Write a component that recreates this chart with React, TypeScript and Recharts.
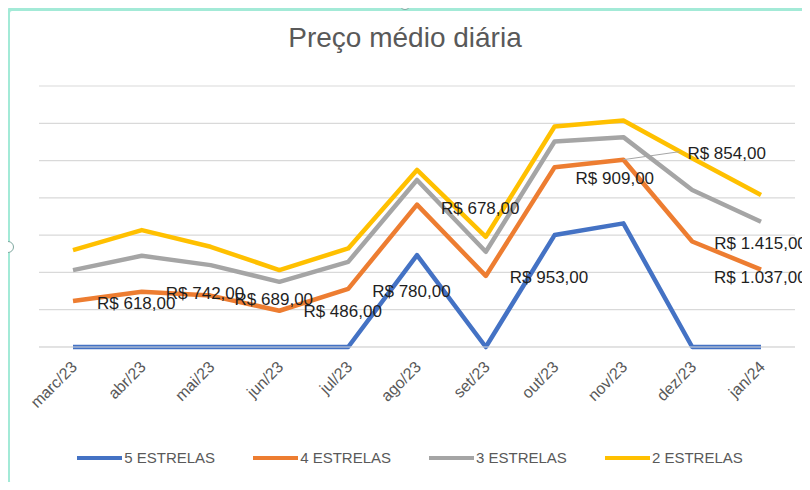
import React from "react"
import { LineChart, Line, XAxis, YAxis, CartesianGrid, Legend, LabelList } from "recharts"

const months = ["marc/23", "abr/23", "mai/23", "jun/23", "jul/23", "ago/23", "set/23", "out/23", "nov/23", "dez/23", "jan/24"]
const star5 = [0, 0, 0, 0, 0, 1232, 0, 1501, 1658, 0, 0]
const star4 = [618, 742, 689, 486, 780, 678, 953, 909, 854, 1415, 1037]
const star3 = [413, 481, 409, 388, 362, 330, 324, 345, 302, 691, 643]
const star2 = [269, 345, 246, 157, 180, 135, 201, 202, 223, 426, 359]
const yTicks = [0, 500, 1000, 1500, 2000, 2500, 3000, 3500]

const series = [
  { key: "c5", name: "5 ESTRELAS", color: "#4472C4" },
  { key: "c4", name: "4 ESTRELAS", color: "#ED7D31" },
  { key: "c3", name: "3 ESTRELAS", color: "#A5A5A5" },
  { key: "c2", name: "2 ESTRELAS", color: "#FFC000" },
]

// label nudges (Excel labels were dragged around a bit)
const labelDx = [24, 24, 24, 24, 24, 24, 24, 21, 64, 22, -47]
const labelDy = [2, 1, 3, 0, 2, 3, 1, 11, -7, 2, 7]

// Excel stacked line: each line sits on top of the previous ones
const data = months.map((m, i) => ({
  name: m,
  c5: star5[i],
  c4: star5[i] + star4[i],
  c3: star5[i] + star4[i] + star3[i],
  c2: star5[i] + star4[i] + star3[i] + star2[i],
}))

function brl(v: number) {
  const [int, dec] = v.toFixed(2).split(".")
  return "R$ " + int.replace(/\B(?=(\d{3})+(?!\d))/g, ".") + "," + dec
}

const MonthTick = (props: any) => {
  const { x, y, payload } = props
  return (
    <g transform={`translate(${x + 5},${y + 21})`}>
      <text transform="rotate(-45)" textAnchor="end" fill="#595959" fontSize={16} fontFamily="Liberation Sans, Arial, sans-serif">
        {payload.value}
      </text>
    </g>
  )
}

const PriceLabel = (props: any) => {
  const { x, y, index } = props
  const dx = labelDx[index]
  const dy = labelDy[index]
  return (
    <g>
      {index === 8 && (
        <line x1={x} y1={y} x2={x + dx - 8} y2={y + dy - 1} stroke="#a6a6a6" strokeWidth={1} />
      )}
      <text x={x + dx} y={y + dy} dy="0.35em" textAnchor="start" fill="#1f1f1f" fontSize={17} fontFamily="Liberation Sans, Arial, sans-serif">
        {brl(star4[index])}
      </text>
    </g>
  )
}

const LegendBox = () => (
  <div style={{ display: "flex", justifyContent: "center", gap: 38, paddingLeft: 10, fontFamily: "Liberation Sans, Arial, sans-serif", fontSize: 15, color: "#595959" }}>
    {series.map(s => (
      <div key={s.key} style={{ display: "flex", alignItems: "center" }}>
        <span style={{ display: "inline-block", width: 45, height: 4, background: s.color, marginRight: 2 }} />
        <span>{s.name}</span>
      </div>
    ))}
  </div>
)

const handle = (left: number, top: number) => (
  <div style={{ position: "absolute", left: left - 6, top: top - 6, width: 10, height: 10, borderRadius: "50%", background: "#fff", border: "1.5px solid #7fa8a0" }} />
)

export default function App() {
  return (
    <div style={{ position: "relative", width: 810, height: 490, margin: -8, overflow: "hidden", background: "#fff" }}>
      <div style={{ position: "absolute", left: 6, top: 7, width: 830, height: 480, border: "4px solid #a3ead7", borderRadius: 6, boxSizing: "border-box" }} />
      {handle(405, 4)}
      {handle(8, 247)}
      {handle(405, 490)}
      <div style={{ position: "absolute", left: 0, top: 22, width: 810, textAlign: "center", fontFamily: "Liberation Sans, Arial, sans-serif", fontSize: 28, color: "#595959" }}>
        Preço médio diária
      </div>
      <div style={{ position: "absolute", left: 0, top: 0 }}>
        <LineChart width={810} height={490} data={data} margin={{ top: 86, right: 15, bottom: 0, left: 39 }}>
          <CartesianGrid vertical={false} stroke="#d9d9d9" strokeWidth={1.2} />
          <XAxis
            dataKey="name"
            height={143}
            interval={0}
            padding={{ left: 34, right: 34 }}
            tickLine={false}
            tickSize={0}
            tickMargin={0}
            axisLine={{ stroke: "#d9d9d9" }}
            tick={<MonthTick />}
          />
          <YAxis hide domain={[0, 3500]} ticks={yTicks} />
          {series.map(s => (
            <Line
              key={s.key}
              type="linear"
              dataKey={s.key}
              name={s.name}
              stroke={s.color}
              strokeWidth={4.5}
              strokeLinejoin="round"
              dot={false}
              activeDot={false}
              isAnimationActive={false}
            />
          ))}
          <Line dataKey="c4" stroke="none" dot={false} activeDot={false} legendType="none" isAnimationActive={false}>
            <LabelList dataKey="c4" content={<PriceLabel />} />
          </Line>
          <Legend
            layout="horizontal"
            verticalAlign="middle"
            align="center"
            content={<LegendBox />}
            wrapperStyle={{ top: 449, left: 0, width: 810 }}
          />
        </LineChart>
      </div>
    </div>
  )
}
